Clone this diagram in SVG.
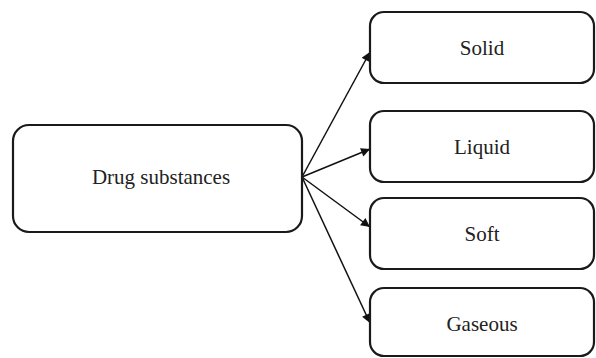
<svg xmlns="http://www.w3.org/2000/svg" width="596" height="358" viewBox="0 0 596 358">
<style>
.box{fill:#fff;stroke:#1a1a1a;stroke-width:2.2}
.lbl{font-family:'Liberation Serif','DejaVu Serif',serif;font-size:21px;fill:#222;text-anchor:middle}
.edge{stroke:#111;stroke-width:1.5;fill:none;marker-end:url(#ah)}
</style>
<defs>
<marker id="ah" viewBox="0 0 10 10" refX="10" refY="5" markerWidth="10" markerHeight="9" markerUnits="userSpaceOnUse" orient="auto"><path d="M0,0 L10,5 L0,10 z" fill="#111"/></marker>
</defs>
<g id="connectors">
<line class="edge" x1="302" y1="177" x2="370" y2="52"/>
<line class="edge" x1="302" y1="177" x2="370" y2="149"/>
<line class="edge" x1="302" y1="177" x2="370" y2="227"/>
<line class="edge" x1="302" y1="177" x2="370" y2="323"/>
</g>
<g id="drug"><rect class="box" x="13" y="125" width="289" height="107" rx="16"/><text class="lbl" x="161" y="184">Drug substances</text></g>
<g id="solid"><rect class="box" x="370" y="12" width="224" height="71" rx="14"/><text class="lbl" x="482" y="55">Solid</text></g>
<g id="liquid"><rect class="box" x="370" y="111" width="224" height="71" rx="14"/><text class="lbl" x="482" y="154">Liquid</text></g>
<g id="soft"><rect class="box" x="370" y="198" width="224" height="71" rx="14"/><text class="lbl" x="482" y="241">Soft</text></g>
<g id="gaseous"><rect class="box" x="370" y="288" width="224" height="68" rx="14"/><text class="lbl" x="482" y="331">Gaseous</text></g>
</svg>
